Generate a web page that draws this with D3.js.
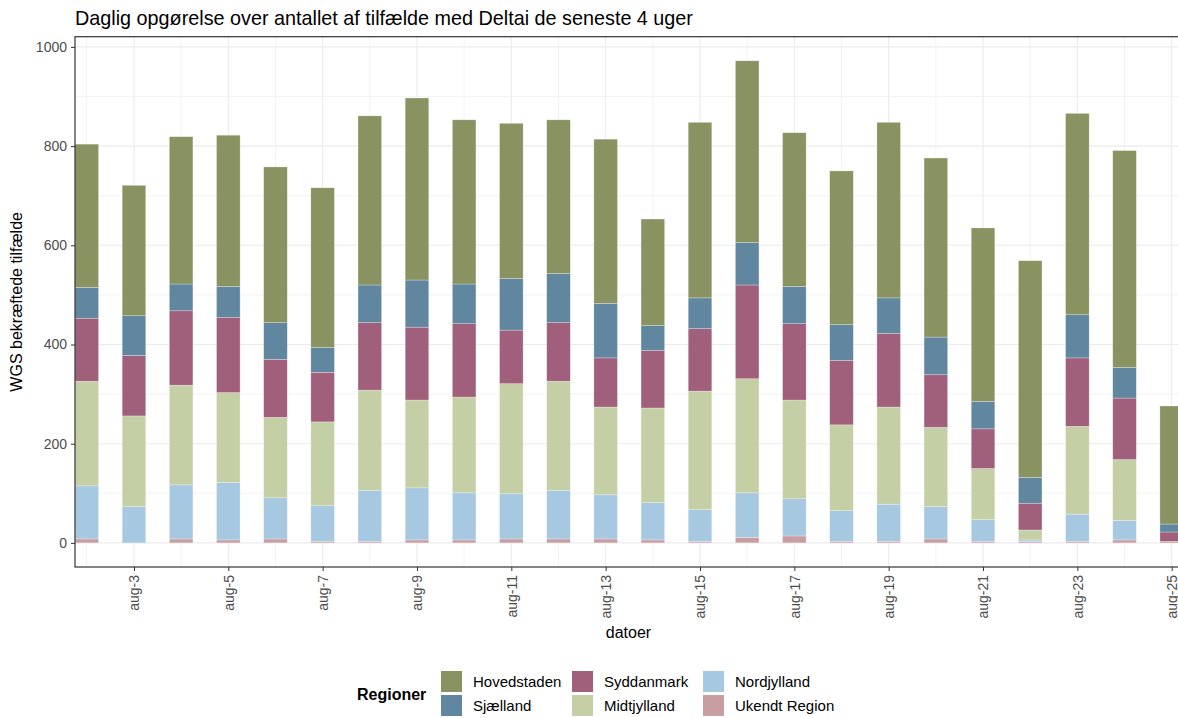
<!DOCTYPE html>
<html>
<head>
<meta charset="utf-8">
<script src="https://cdn.jsdelivr.net/npm/d3@7"></script>
<style>
  body { margin: 0; background: #fff; }
  svg { font-family: "Liberation Sans", Arial, sans-serif; display: block; }
</style>
</head>
<body>
<svg id="chart" width="1178" height="718"></svg>
<script>
// data, day 2..25 of august 2021
const days = d3.range(2, 26);
const regions = ["Ukendt Region", "Nordjylland", "Midtjylland", "Syddanmark", "Sjælland", "Hovedstaden"];
const ukendt      = [8, 0, 8, 6, 8, 3, 3, 6, 6, 8, 8, 8, 6, 3, 11, 14, 3, 3, 8, 3, 3, 3, 6, 3];
const nordjylland = [107, 73, 109, 116, 83, 72, 103, 105, 95, 91, 98, 89, 75, 64, 90, 75, 62, 75, 65, 44, 3, 55, 39, 0];
const midtjylland = [211, 183, 201, 181, 162, 169, 202, 177, 193, 222, 220, 177, 191, 239, 230, 199, 173, 196, 160, 103, 20, 177, 123, 0];
const syddanmark  = [127, 122, 150, 152, 117, 100, 136, 147, 148, 108, 118, 99, 116, 126, 189, 154, 130, 148, 106, 80, 54, 138, 124, 19];
const sjaelland   = [62, 80, 54, 62, 74, 50, 76, 95, 80, 104, 99, 110, 50, 62, 86, 75, 72, 72, 76, 55, 52, 87, 62, 16];
const hovedstaden = [289, 263, 297, 305, 314, 322, 341, 367, 331, 313, 310, 331, 215, 354, 366, 310, 310, 354, 361, 350, 437, 406, 437, 238];
const yTicks = [0, 200, 400, 600, 800, 1000];
const legendOrder = ["Hovedstaden", "Sjælland", "Syddanmark", "Midtjylland", "Nordjylland", "Ukendt Region"];

const colors = {
  "Hovedstaden": "#889361",
  "Sjælland": "#6186a0",
  "Syddanmark": "#a0607c",
  "Midtjylland": "#c5cfa6",
  "Nordjylland": "#a6c8e0",
  "Ukendt Region": "#c89ea3"
};

const series = {
  "Ukendt Region": ukendt, "Nordjylland": nordjylland, "Midtjylland": midtjylland,
  "Syddanmark": syddanmark, "Sjælland": sjaelland, "Hovedstaden": hovedstaden
};

const rows = days.map((d, i) => {
  const r = {date: new Date(2021, 7, d)};
  regions.forEach(k => r[k] = series[k][i]);
  return r;
});

const svg = d3.select("#chart");
const pLeft = 75, pRight = 1183.5, pTop = 36.7, pBottom = 567;
const DAY = 864e5;

const x = d3.scaleTime()
  .domain([new Date(2021, 7, 2).getTime() - 0.25 * DAY, new Date(2021, 7, 25).getTime() + 0.25 * DAY])
  .range([pLeft, pRight]);
const y = d3.scaleLinear().domain([-48.6, 1020.6]).range([pBottom, pTop]);

const stack = d3.stack().keys(regions)(rows);

// panel grid
const grid = svg.append("g");
grid.selectAll("line.hy")
  .data(d3.range(0, 1001, 100))
  .join("line")
  .attr("x1", pLeft).attr("x2", pRight)
  .attr("y1", d => y(d)).attr("y2", d => y(d))
  .attr("stroke", "#ebebeb")
  .attr("stroke-width", d => d % 200 === 0 ? 1.1 : 0.6);
grid.selectAll("line.vx")
  .data(days)
  .join("line")
  .attr("x1", d => x(new Date(2021, 7, d))).attr("x2", d => x(new Date(2021, 7, d)))
  .attr("y1", pTop).attr("y2", pBottom)
  .attr("stroke", "#ebebeb")
  .attr("stroke-width", d => d % 2 === 1 ? 1.1 : 0.6);

// bars
const barW = x(new Date(2021, 7, 2, 12)) - x(new Date(2021, 7, 2));
svg.append("g")
  .selectAll("g")
  .data(stack)
  .join("g")
  .attr("fill", d => colors[d.key])
  .selectAll("rect")
  .data(d => d)
  .join("rect")
  .attr("x", d => x(d.data.date) - barW / 2)
  .attr("width", barW)
  .attr("y", d => y(d[1]))
  .attr("height", d => Math.max(0, y(d[0]) - y(d[1])))
  .attr("stroke", "rgba(255,255,255,0.45)")
  .attr("stroke-width", 0.6);

// panel border
svg.append("rect")
  .attr("x", pLeft).attr("y", pTop)
  .attr("width", pRight - pLeft).attr("height", pBottom - pTop)
  .attr("fill", "none").attr("stroke", "#333").attr("stroke-width", 1.2);

// axes
const yAxis = svg.append("g")
  .attr("transform", `translate(${pLeft},0)`)
  .call(d3.axisLeft(y).tickValues(yTicks).tickFormat(d3.format("d")).tickSize(4).tickPadding(4));
yAxis.select(".domain").remove();
yAxis.selectAll(".tick line").attr("stroke", "#333");
yAxis.selectAll(".tick text").attr("fill", "#4d4d4d").style("font-size", "14px");

const xAxis = svg.append("g")
  .attr("transform", `translate(0,${pBottom})`)
  .call(d3.axisBottom(x)
    .tickValues(d3.range(3, 26, 2).map(d => new Date(2021, 7, d)))
    .tickFormat(d => "aug-" + d.getDate())
    .tickSize(4));
xAxis.select(".domain").remove();
xAxis.selectAll(".tick line").attr("stroke", "#333");
xAxis.selectAll(".tick text")
  .attr("fill", "#4d4d4d")
  .style("font-size", "14px")
  .attr("transform", "rotate(-90)")
  .attr("text-anchor", "end")
  .attr("x", -8)
  .attr("y", 0)
  .attr("dy", "0.35em");

// titles
svg.append("text")
  .attr("x", 75).attr("y", 25)
  .style("font-size", "19.8px")
  .attr("fill", "#000")
  .text("Daglig opgørelse over antallet af tilfælde med Deltai de seneste 4 uger");

svg.append("text")
  .attr("x", (pLeft + 1178) / 2 + 2).attr("y", 638)
  .attr("text-anchor", "middle")
  .style("font-size", "16px")
  .text("datoer");

svg.append("text")
  .attr("transform", `translate(22,${(pTop + pBottom) / 2}) rotate(-90)`)
  .attr("text-anchor", "middle")
  .style("font-size", "16px")
  .text("WGS bekræftede tilfælde");

// legend
const legend = svg.append("g");
legend.append("text")
  .attr("x", 357).attr("y", 700)
  .style("font-size", "16px").style("font-weight", "bold")
  .text("Regioner");

const colX = [441, 572, 703];
const rowY = [671, 695];
const items = legend.selectAll("g.item")
  .data(legendOrder)
  .join("g")
  .attr("transform", (d, i) => `translate(${colX[Math.floor(i / 2)]},${rowY[i % 2]})`);
items.append("rect")
  .attr("width", 21).attr("height", 21)
  .attr("fill", d => colors[d]);
items.append("text")
  .attr("x", 32).attr("y", 16)
  .style("font-size", "15px")
  .text(d => d);
</script>
</body>
</html>
